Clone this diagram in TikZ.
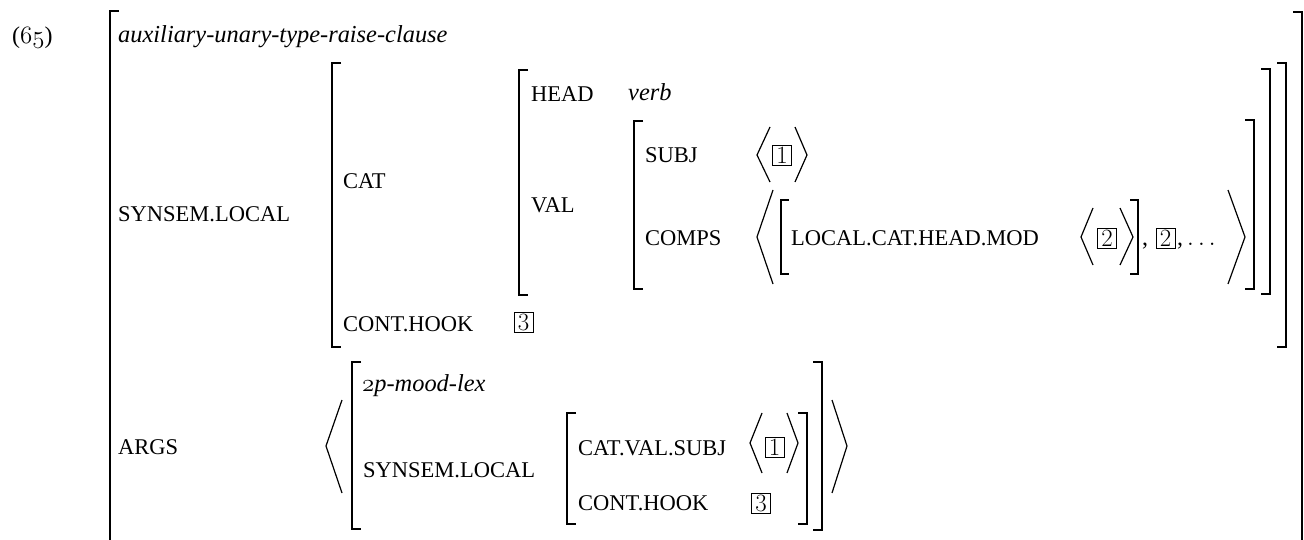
\documentclass[tikz,border=0pt]{standalone}
\usepackage{fontspec}
\setmainfont{Liberation Serif}
\begin{document}
\begin{tikzpicture}[x=1pt,y=-1pt,
    every node/.style={inner sep=0pt,font=\fontsize{24}{28}\selectfont},
    feat/.style={anchor=base west,font=\fontsize{22.5}{27}\selectfont},
    typ/.style={anchor=base west,font=\fontsize{24.4}{28}\selectfont\itshape},
    tag/.style={draw,line width=0.6pt,minimum width=19pt,minimum height=20pt,font=\fontsize{24}{24}\selectfont},
    brk/.style={line width=2pt},
    ang/.style={line width=1.2pt}]
  \useasboundingbox (0,0) rectangle (1304,540);
  \node[anchor=base west] (ex) at (12,44) {($\mathnormal{65}$)};
  \node[typ] (type) at (118,43) {auxiliary-unary-type-raise-clause};
  \node[feat] (ssl) at (118,222) {SYNSEM.LOCAL};
  \node[feat] (cat) at (343,189) {CAT};
  \node[feat] (hook) at (343,331) {CONT.HOOK};
  \node[tag] (t3) at (523.5,322) {$3$};
  \node[feat] (head) at (531,101.7) {HEAD};
  \node[typ] (verb) at (628,101) {verb};
  \node[feat] (val) at (531,213) {VAL};
  \node[feat] (subj) at (645,163) {SUBJ};
  \node[tag] (t1) at (782,155) {$1$};
  \node[feat] (comps) at (645,246) {COMPS};
  \node[feat] (mod) at (791,246) {LOCAL.CAT.HEAD.MOD};
  \node[tag] (t2) at (1107,238) {$2$};
  \node[anchor=base west] (c1) at (1142,246) {,};
  \node[tag] (t2b) at (1165.5,238) {$2$};
  \node[anchor=base west] (dots) at (1177,246) {,\,$\ldots$};
  \node[feat] (args) at (118,454) {ARGS};
  \node[typ] (atype) at (362,391) {$\mathnormal{2}$p-mood-lex};
  \node[feat] (assl) at (363,477) {SYNSEM.LOCAL};
  \node[feat] (asubj) at (578,455) {CAT.VAL.SUBJ};
  \node[tag] (at1) at (774.5,447) {$1$};
  \node[feat] (ahook) at (578,510) {CONT.HOOK};
  \node[tag] (at3) at (761,503.5) {$3$};
  \begin{scope}[brk]
    \draw (119,11) -| (110,560);
    \draw (1293,12) -| (1302,560);
    \draw (341,63) -| (332,347) -- (341,347);
    \draw (1277,63) -| (1286,347) -- (1277,347);
    \draw (528,70) -| (519,295) -- (528,295);
    \draw (1261,69) -| (1270,294) -- (1261,294);
    \draw (643,121) -| (634,289) -- (643,289);
    \draw (1245,120) -| (1254,289) -- (1245,289);
    \draw (789,200) -| (781,274) -- (789,274);
    \draw (1130,200) -| (1138,274) -- (1130,274);
    \draw (361,362) -| (352,529) -- (361,529);
    \draw (813,362) -| (822,530) -- (813,530);
    \draw (576,413) -| (567,524) -- (576,524);
    \draw (798,413) -| (807,524) -- (798,524);
  \end{scope}
  \begin{scope}[ang]
    \draw (770,127) -- (757,155) -- (770,182);
    \draw (795,127) -- (807,155) -- (795,182);
    \draw (773,190) -- (757,237) -- (773,284);
    \draw (1228,190) -- (1245,237) -- (1228,284);
    \draw (1093,208) -- (1081,237) -- (1093,265);
    \draw (1120,208) -- (1133,237) -- (1120,265);
    \draw (342,400) -- (326,446) -- (342,493);
    \draw (832,400) -- (847,446) -- (832,493);
    \draw (762,413) -- (750,443) -- (762,473);
    \draw (787,413) -- (798,443) -- (787,473);
  \end{scope}
\end{tikzpicture}
\end{document}
